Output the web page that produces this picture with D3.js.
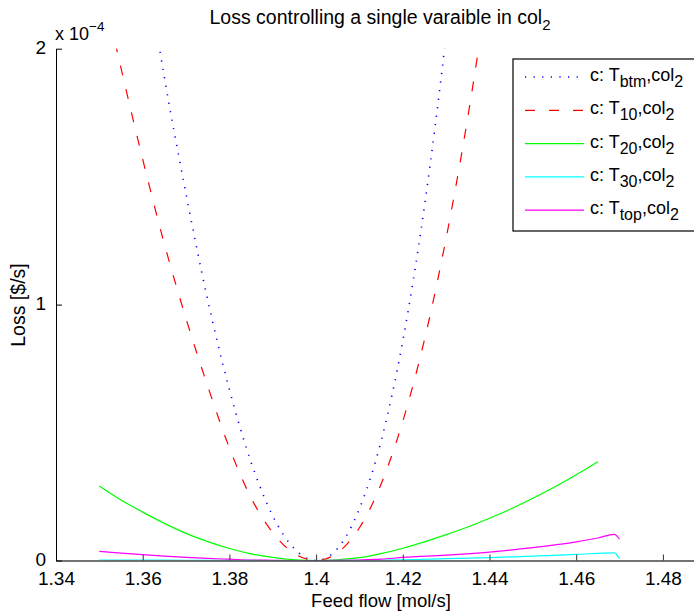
<!DOCTYPE html>
<html>
<head>
<meta charset="utf-8">
<script src="https://cdn.jsdelivr.net/npm/d3@7"></script>
<style>
  body { margin: 0; background: #fff; }
  text { font-family: "Liberation Sans", Arial, Helvetica, sans-serif; fill: #000; }
</style>
</head>
<body>
<svg id="chart" width="694" height="611"></svg>
<script>
// Loss (in units of 1e-4 $/s) against feed flow (mol/s), one series per controlled variable
const feedBtm = [1.360, 1.365, 1.370, 1.375, 1.380, 1.385, 1.390, 1.395, 1.400, 1.405, 1.410, 1.415, 1.420, 1.425, 1.430, 1.435];
const lossBtm = [2.420, 1.888, 1.432, 1.018, 0.668, 0.384, 0.174, 0.046, 0.000, 0.048, 0.203, 0.467, 0.858, 1.385, 2.055, 2.866];

const feedT10 = [1.350, 1.355, 1.360, 1.365, 1.370, 1.375, 1.380, 1.385, 1.390, 1.395, 1.400, 1.405, 1.410, 1.415, 1.420, 1.425, 1.430, 1.435, 1.440];
const lossT10 = [2.300, 1.924, 1.568, 1.237, 0.945, 0.681, 0.440, 0.245, 0.109, 0.027, 0.000, 0.031, 0.128, 0.299, 0.544, 0.863, 1.260, 1.733, 2.288];

const feedT20 = [1.350, 1.355, 1.360, 1.365, 1.370, 1.375, 1.380, 1.385, 1.390, 1.395, 1.400, 1.405, 1.410, 1.415, 1.420, 1.425, 1.430, 1.435, 1.440, 1.445, 1.450, 1.455, 1.460, 1.465];
const lossT20 = [0.291, 0.236, 0.189, 0.145, 0.106, 0.074, 0.047, 0.026, 0.012, 0.003, 0.000, 0.003, 0.011, 0.027, 0.048, 0.073, 0.101, 0.131, 0.165, 0.202, 0.243, 0.287, 0.335, 0.386];

const feedT30 = [1.350, 1.360, 1.370, 1.380, 1.390, 1.400, 1.410, 1.420, 1.430, 1.440, 1.450, 1.460, 1.4688, 1.470];
const lossT30 = [0.002, 0.0015, 0.001, 0.0005, 0.000, 0.000, 0.0005, 0.003, 0.007, 0.011, 0.017, 0.024, 0.030, 0.007];

const feedTop = [1.350, 1.355, 1.360, 1.365, 1.370, 1.375, 1.380, 1.385, 1.390, 1.395, 1.400, 1.405, 1.410, 1.415, 1.420, 1.430, 1.440, 1.450, 1.460, 1.465, 1.4688, 1.470];
const lossTop = [0.036, 0.029, 0.023, 0.017, 0.012, 0.008, 0.005, 0.002, 0.001, 0.000, 0.000, 0.0005, 0.002, 0.005, 0.012, 0.021, 0.033, 0.050, 0.073, 0.088, 0.102, 0.083];

const seriesNames = ["btm", "10", "20", "30", "top"];
const seriesColors = ["#0000ff", "#ff0000", "#00ff00", "#00ffff", "#ff00ff"];
const seriesDash = ["1.2,7.4", "10,14", null, null, null];

const xTicks = [1.34, 1.36, 1.38, 1.40, 1.42, 1.44, 1.46, 1.48];
const xTickLabels = ["1.34", "1.36", "1.38", "1.4", "1.42", "1.44", "1.46", "1.48"];
const yTicks = [0, 1, 2];

const series = [
  { feed: feedBtm, loss: lossBtm },
  { feed: feedT10, loss: lossT10 },
  { feed: feedT20, loss: lossT20 },
  { feed: feedT30, loss: lossT30 },
  { feed: feedTop, loss: lossTop }
].map((s, i) => ({
  name: seriesNames[i], color: seriesColors[i], dash: seriesDash[i],
  points: s.feed.map((f, j) => ({ f, v: s.loss[j] }))
}));

const svg = d3.select("#chart");
const plotLeft = 56, plotTop = 48.7, plotBottom = 560.5;
const labelFont = 19.5;

// x axis runs past the right edge of the figure
const x = d3.scaleLinear().domain([1.34, 1.50]).range([plotLeft, plotLeft + 8 * 86.7]);
const y = d3.scaleLinear().domain([0, 2]).range([plotBottom, plotTop]);

svg.append("clipPath").attr("id", "plotClip")
  .append("rect").attr("x", plotLeft).attr("y", plotTop).attr("width", 700).attr("height", plotBottom - plotTop);

// curves
const line = d3.line().x(d => x(d.f)).y(d => y(d.v)).curve(d3.curveMonotoneX);
const curves = svg.append("g").attr("clip-path", "url(#plotClip)");
series.forEach(s => {
  curves.append("path")
    .attr("d", line(s.points))
    .attr("fill", "none")
    .attr("stroke", s.color)
    .attr("stroke-width", s.dash && s.dash.startsWith("1.2") ? 1.6 : 1.2)
    .attr("stroke-dasharray", s.dash);
});

// x axis with inward ticks
const xAxis = d3.axisBottom(x).tickValues(xTicks)
  .tickFormat((d, i) => xTickLabels[i]).tickSizeInner(-6).tickSizeOuter(0).tickPadding(11.5);
const gx = svg.append("g").attr("transform", `translate(0,${plotBottom})`).call(xAxis);
gx.select(".domain").attr("stroke", "#444").attr("stroke-width", 1.6);
gx.selectAll(".tick line").attr("stroke", "#333");
gx.selectAll(".tick text").attr("font-size", 19).attr("font-family", "Liberation Sans, Arial, sans-serif").attr("fill", "#000");

// y axis with inward ticks
const yAxis = d3.axisLeft(y).tickValues(yTicks).tickFormat(d3.format("d"))
  .tickSizeInner(-6).tickSizeOuter(0).tickPadding(10);
const gy = svg.append("g").attr("transform", `translate(${plotLeft},0)`).call(yAxis);
gy.select(".domain").attr("stroke", "#000");
gy.selectAll(".tick line").attr("stroke", "#000");
gy.selectAll(".tick text").attr("font-size", 19).attr("dy", "0.27em")
  .attr("font-family", "Liberation Sans, Arial, sans-serif").attr("fill", "#000");

// exponent label
const ex = svg.append("text").attr("x", 55).attr("y", 40).attr("font-size", 18);
ex.append("tspan").text("x 10");
ex.append("tspan").attr("dy", -9).attr("font-size", 13.5).text("\u22124");

// title
const title = svg.append("text").attr("x", 380).attr("y", 24).attr("text-anchor", "middle").attr("font-size", labelFont);
title.append("tspan").text("Loss controlling a single varaible in col");
title.append("tspan").attr("dy", 6).attr("font-size", 15).text("2");

// axis labels
svg.append("text").attr("x", 381).attr("y", 607).attr("text-anchor", "middle")
  .attr("font-size", 18.5).text("Feed flow [mol/s]");
svg.append("text").attr("transform", "translate(25,305) rotate(-90)").attr("text-anchor", "middle")
  .attr("font-size", labelFont).text("Loss [$/s]");

// legend
const lg = svg.append("g");
lg.append("rect").attr("x", 513).attr("y", 59).attr("width", 200).attr("height", 172)
  .attr("fill", "#fff").attr("stroke", "#000").attr("stroke-width", 1.2);
series.forEach((s, i) => {
  const cy = 77 + i * 33.3;
  lg.append("line").attr("x1", 525).attr("x2", 584).attr("y1", cy).attr("y2", cy)
    .attr("stroke", s.color).attr("stroke-width", s.dash && s.dash.startsWith("1.2") ? 1.6 : 1.2)
    .attr("stroke-dasharray", s.dash);
  const t = lg.append("text").attr("x", 590).attr("y", cy + 4).attr("font-size", 18);
  t.append("tspan").text("c: T");
  t.append("tspan").attr("dy", 6).attr("font-size", 16).text(s.name);
  t.append("tspan").attr("dy", -6).attr("font-size", 18).text(",col");
  t.append("tspan").attr("dy", 6).attr("font-size", 16).text("2");
});
</script>
</body>
</html>
